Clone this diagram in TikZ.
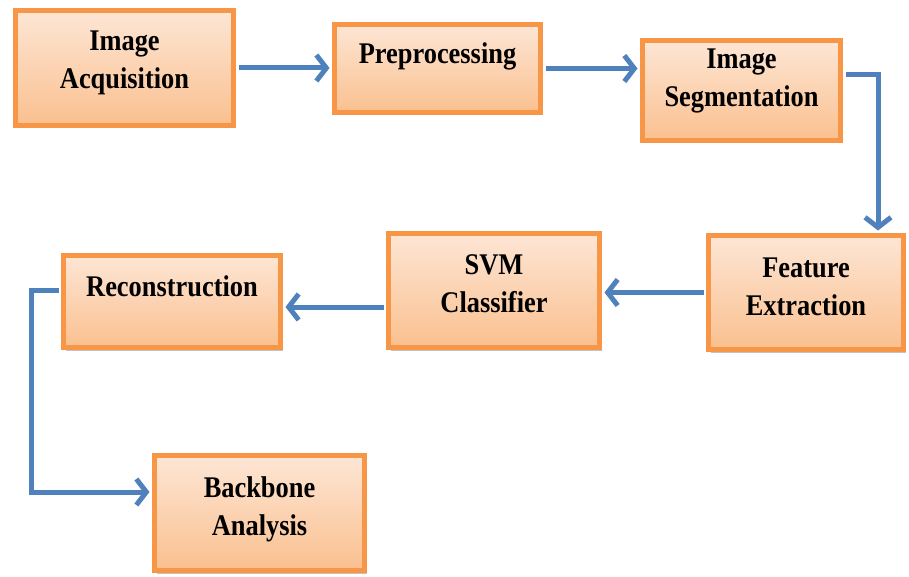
\documentclass[tikz,border=0pt]{standalone}
\usepackage{fontspec}
\setmainfont{Liberation Serif}[FakeStretch=0.88]
\usetikzlibrary{arrows.meta,shadows}

\definecolor{boxline}{HTML}{F79646}
\definecolor{boxtop}{HTML}{FDE6D5}
\definecolor{boxbot}{HTML}{FAC08F}
\definecolor{flowblue}{HTML}{4F81BD}

\begin{document}
\begin{tikzpicture}[
    x=1pt, y=-1pt,
    stage/.style={rectangle, draw=boxline, line width=5pt, top color=boxtop, bottom color=boxbot,
        align=center, font=\fontsize{30}{38}\selectfont\bfseries, inner sep=0pt,
        drop shadow={shadow xshift=2pt, shadow yshift=-3pt, opacity=0.4, fill=black!60}},
    flow/.style={draw=flowblue, line width=5pt, shorten <=2.5pt, shorten >=2.5pt,
        -{Straight Barb[length=10pt, width=26pt]}}
]
    \useasboundingbox (0,0) rectangle (909,577);

    % top row
    \node[stage, minimum width=218pt, minimum height=115pt, text depth=16pt] (ia) at (124.5, 68) {Image\\Acquisition};
    \node[stage, minimum width=206pt, minimum height=88pt, text depth=31pt] (pre) at (437.5, 68.5) {Preprocessing};
    \node[stage, minimum width=198pt, minimum height=100pt, text depth=26pt] (seg) at (741.5, 90.5) {Image\\Segmentation};

    % middle row
    \node[stage, minimum width=195pt, minimum height=114pt, text depth=12pt] (fe) at (806, 292.5) {Feature\\Extraction};
    \node[stage, minimum width=211pt, minimum height=114pt, text depth=13pt] (svm) at (494, 290.5) {SVM\\Classifier};
    \node[stage, minimum width=217pt, minimum height=92pt, text depth=30pt] (rec) at (172, 301.5) {Reconstruction};

    % bottom
    \node[stage, minimum width=210pt, minimum height=115pt, text depth=14pt] (ba) at (259.5, 513) {Backbone\\Analysis};

    % connectors
    \draw[flow] (ia.east) -- (ia.east -| pre.west);
    \draw[flow] (pre.east) -- (pre.east -| seg.west);
    \draw[flow] ([yshift=15.5pt]seg.east) -| ([xshift=72pt]fe.north);
    \draw[flow] (fe.west) -- (fe.west -| svm.east);
    \draw[flow] ([yshift=-16.5pt]svm.west) -- ([yshift=-16.5pt]svm.west -| rec.east);
    \draw[flow] ([yshift=11.5pt]rec.west) -- ++(-30,0) |- ([yshift=21pt]ba.west);
\end{tikzpicture}
\end{document}
